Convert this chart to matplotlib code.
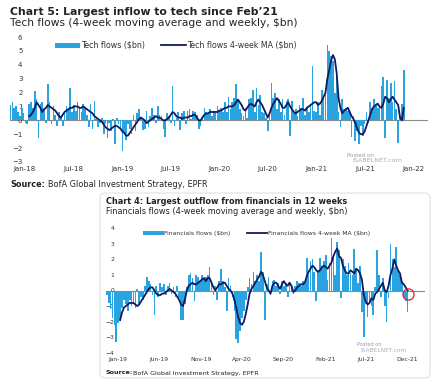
import numpy as np
import pandas as pd
import matplotlib.pyplot as plt
from matplotlib.patches import FancyBboxPatch

plt.rcParams['font.family'] = ['DejaVu Sans']

W, H = 447, 389
BAR_COL = '#2aa4e0'
LINE_COL = '#101a5e'
TXT = '#222222'


def fx(x):
    return x / W


def fy(y):
    return 1 - y / H


# ---- Chart 5: tech flows, weekly from Nov-2017 ----
tech_dates = pd.date_range('2017-11-08', periods=212, freq='7D')
tech_flows = [
    1.1, 1.3, 0.9, 1.0, 0.6, 0.3, 0.9, 0.5, -0.2, -0.3,
    1.2, 1.3, 0.9, 2.1, 1.5, -1.3, 1.2, 1.3, 0.8, -0.2,
    2.6, 1.3, -0.3, 1.0, 0.4, -0.4, 0.6, 0.3, -0.4, 0.7,
    1.0, 0.8, 2.3, 0.6, 1.1, 0.7, 1.3, 0.9, 0.6, 1.2,
    0.9, 0.4, -0.5, 1.2, -0.6, 1.4, 0.1, -0.5, -0.2, 0.2,
    -1.0, -0.3, -1.3, -0.2, -0.8, 0.1, -1.7, 0.2, -0.3, -0.6,
    -2.2, -0.9, -1.4, -0.3, -0.6, -1.0, 0.4, -0.8, 0.5, 0.8,
    0.2, -0.7, -0.6, 0.7, -0.5, 0.3, 0.9, 0.4, -0.2, 1.0,
    0.4, 0.3, -0.6, -1.2, 0.5, 0.3, -0.2, 2.5, -0.4, 0.2,
    0.6, -0.7, 0.5, 0.7, -0.3, 0.7, 0.8, 0.1, 0.7, 0.6,
    0.4, -0.6, -0.4, 0.3, 0.9, 0.6, 0.5, 0.8, 0.3, 0.7,
    0.5, 1.0, 0.7, 0.9, 0.6, 1.3, 0.6, 1.7, 0.8, 1.3,
    1.6, 2.6, 1.4, 0.8, 0.5, 0.3, 0.9, 0.2, 1.5, 1.6,
    2.2, 0.6, 2.3, 1.1, 1.8, 0.6, 0.5, 0.2, -0.8, 0.6,
    2.7, 1.6, 2.0, 0.8, 1.5, 0.6, 1.5, 0.4, 1.4, 1.5,
    -1.1, 1.4, 0.5, 0.8, 0.3, 1.1, 0.9, 1.6, 0.4, 0.9,
    0.6, 1.0, 3.9, 0.7, 0.6, 1.3, 0.4, 2.2, 1.6, 2.3,
    5.4, 5.0, 4.6, 4.3, 2.0, 3.1, 0.6, -0.5, 1.5, 0.8,
    0.9, 0.7, 0.5, -1.2, 0.3, -1.5, -0.8, -1.7, -0.4, -1.1,
    -0.3, 0.6, -0.2, 1.3, 0.9, 1.5, 1.2, 0.9, 1.1, 2.5,
    3.1, -1.3, 2.9, 1.6, 2.7, 1.3, 2.8, 0.8, -1.6, 0.3, 1.2, 3.6,
]
tech_ma = [np.nan] * 10 + [
    0.3, 0.4, 0.6, 0.9, 1.3, 1.1, 0.9, 0.6, 0.8, 0.9,
    1.1, 1.0, 0.9, 0.8, 0.7, 0.5, 0.3, 0.2, 0.4, 0.6,
    0.7, 0.8, 0.9, 0.9, 1.0, 1.0, 1.0, 0.9, 0.9, 1.0,
    0.9, 0.8, 0.7, 0.6, 0.5, 0.3, 0.2, 0.1, 0.0, -0.1,
    -0.3, -0.5, -0.6, -0.7, -0.6, -0.5, -0.4, -0.4, -0.5, -0.6,
    -0.8, -0.9, -1.1, -1.1, -0.9, -0.7, -0.5, -0.3, -0.1, 0.1,
    0.2, 0.1, 0.0, -0.2, -0.1, 0.0, 0.1, 0.2, 0.3, 0.2,
    0.2, 0.1, 0.0, 0.0, 0.1, 0.2, 0.4, 0.6, 0.5, 0.3,
    0.2, 0.2, 0.1, 0.2, 0.2, 0.2, 0.3, 0.3, 0.4, 0.4,
    0.2, 0.0, 0.0, 0.2, 0.4, 0.5, 0.5, 0.6, 0.6, 0.6,
    0.6, 0.6, 0.7, 0.7, 0.8, 0.9, 0.9, 1.0, 1.0, 1.0,
    1.1, 1.3, 1.5, 1.3, 1.1, 0.8, 0.7, 0.9, 1.1, 1.2,
    1.1, 1.0, 1.3, 1.5, 1.3, 1.1, 0.8, 0.5, 0.2, 0.5,
    0.9, 1.2, 1.4, 1.6, 1.4, 1.2, 0.9, 0.9, 1.1, 1.3,
    1.0, 0.8, 0.6, 0.5, 0.6, 0.7, 0.8, 0.8, 0.7, 0.9,
    1.0, 1.1, 1.2, 1.3, 1.3, 1.1, 1.2, 1.4, 1.7, 2.0,
    3.0, 3.6, 4.3, 4.7, 4.4, 3.4, 1.6, 0.9, 0.5, 0.7,
    0.8, 0.9, 0.6, 0.3, 0.1, -0.2, -0.6, -0.9, -1.0, -1.0,
    -0.8, -0.4, 0.0, 0.4, 0.8, 1.0, 1.1, 1.2, 1.0, 0.9,
    1.2, 1.7, 1.6, 1.3, 1.5, 1.7, 1.5, 1.3, 1.1, 0.2, 0.0, 0.9,
]
tech_ticks = ['2018-01-01', '2018-07-01', '2019-01-01', '2019-07-01', '2020-01-01',
              '2020-07-01', '2021-01-01', '2021-07-01', '2022-01-01']
tech_labels = ['Jan-18', 'Jul-18', 'Jan-19', 'Jul-19', 'Jan-20',
               'Jul-20', 'Jan-21', 'Jul-21', 'Jan-22']

# ---- Chart 4: financials flows, weekly from Nov-2018 ----
fin_dates = pd.date_range('2018-11-21', periods=159, freq='7D')
fin_flows = [
    -0.3, -0.8, -1.2, -1.8, -2.2, -3.3, -2.1, -1.9, -1.1, -0.6,
    -0.9, -1.3, -0.6, -1.0, -0.8, -1.1, 0.1, -0.9, -0.4, -0.6,
    0.3, 0.9, 0.6, 0.4, -0.3, -1.6, 0.3, -0.4, 0.5, 0.2,
    0.4, -0.3, 0.3, 0.5, -0.2, 0.2, -0.4, 0.3, -0.5, -1.9,
    -1.9, -0.9, 0.2, 1.0, 1.1, 0.8, -0.7, 1.0, 0.9, 0.6,
    1.0, 0.8, 0.9, 1.0, 1.5, 0.5, -0.3, 0.3, -0.6, 0.6,
    1.4, 0.6, 0.2, -1.3, 0.8, 0.3, -0.4, -1.3, -3.1, -3.4,
    -2.6, -1.8, -1.3, -0.6, 0.2, 0.8, 0.4, 1.2, 0.6, 1.0,
    0.6, 2.5, 1.2, -1.9, 0.4, 0.9, -0.3, 0.6, 0.7, 0.3,
    0.5, -0.2, 0.6, 0.3, 0.5, -0.4, 0.5, 0.2, -0.2, 0.3,
    0.6, 0.5, 0.3, 0.6, 0.5, 2.1, 1.0, 1.9, 2.0, 1.2,
    -0.7, 1.3, 2.1, 1.6, 1.9, 2.3, 0.7, 1.8, 3.4, 2.2,
    1.0, 3.1, 2.6, -0.5, 2.0, 1.6, 1.0, 1.8, 1.1, 1.0,
    2.7, 1.4, 0.5, 1.6, -1.4, -3.0, -0.9, -1.7, -0.8, -1.0,
    -1.6, 0.2, 2.6, 1.0, -0.4, 0.8, -1.0, -2.0, -0.5, 3.0,
    2.0, 1.5, 2.8, 1.3, 1.0, 0.6, -0.5, -0.7, -1.4,
]
fin_ma = [np.nan] * 7 + [
    -1.9, -1.4, -1.1,
    -1.0, -0.9, -0.8, -0.8, -0.8, -0.9, -1.0, -0.9, -0.7, -0.5,
    -0.3, -0.1, 0.1, 0.2, 0.2, 0.0, -0.2, -0.3, -0.3, -0.2,
    -0.2, -0.1, 0.0, 0.1, 0.0, -0.1, -0.2, -0.4, -0.6, -0.9,
    -1.0, -0.6, 0.0, 0.3, 0.4, 0.5, 0.4, 0.4, 0.5, 0.6,
    0.7, 0.8, 0.6, 0.8, 0.8, 0.5, 0.2, 0.0, 0.2, 0.4,
    0.4, 0.5, 0.5, 0.3, 0.1, 0.0, -0.2, -0.6, -1.1, -1.7,
    -2.1, -2.2, -2.0, -1.5, -0.9, -0.2, 0.1, 0.3, 0.5, 0.7,
    0.9, 1.2, 1.0, 0.6, 0.2, 0.0, -0.2, 0.3, 0.5, 0.5,
    0.3, 0.1, 0.4, 0.6, 0.4, 0.3, 0.5, 0.3, -0.1, 0.0,
    0.2, 0.3, 0.4, 0.4, 0.5, 0.9, 1.2, 1.4, 1.6, 1.5,
    1.3, 1.2, 1.3, 1.5, 1.6, 1.5, 1.4, 1.6, 1.8, 2.2,
    2.5, 2.7, 2.2, 2.1, 1.6, 1.3, 1.1, 1.1, 1.3, 1.2,
    1.1, 1.4, 1.3, 1.1, 0.7, -0.3, -0.7, -0.9, -0.8, -0.5,
    -0.6, -0.2, -0.1, 0.1, 0.3, 0.5, 0.0, -0.1, 0.3, 1.0,
    1.4, 2.0, 1.6, 1.3, 1.1, 0.5, 0.4, 0.2, 0.0,
]
fin_ticks = ['2019-01-01', '2019-06-01', '2019-11-01', '2020-04-01',
             '2020-09-01', '2021-02-01', '2021-07-01', '2021-12-01']
fin_labels = ['Jan-19', 'Jun-19', 'Nov-19', 'Apr-20', 'Sep-20', 'Feb-21', 'Jul-21', 'Dec-21']


def draw(ax, dates, flows, ma, ticks, labels, ylim, names, fs, lpad):
    bars = ax.bar(dates, flows, width=6.2, color=BAR_COL, lw=0, zorder=2)
    line, = ax.plot(dates, ma, color=LINE_COL, lw=1.3, zorder=3)
    ax.axhline(0, color='#8a8a8a', lw=0.8, zorder=1)
    ax.set_ylim(*ylim)
    ax.set_yticks(range(ylim[0], ylim[1] + 1))
    ax.set_xticks(pd.to_datetime(ticks))
    ax.set_xticklabels(labels)
    for s in ax.spines.values():
        s.set_visible(False)
    ax.tick_params(axis='both', length=0, labelsize=fs, labelcolor='#333333')
    ax.tick_params(axis='y', pad=lpad)
    ax.tick_params(axis='x', pad=3)
    ax.set_facecolor('none')
    return [bars, line], names


fig = plt.figure(figsize=(W / 100, H / 100), dpi=100)

# top chart
ax1 = fig.add_axes([fx(10), fy(162), fx(428) - fx(10), fy(37) - fy(162)])
h, n = draw(ax1, tech_dates, tech_flows, tech_ma, tech_ticks, tech_labels, (-3, 6),
            ['Tech flows ($bn)', 'Tech flows 4-week MA ($bn)'], 5.0, -9)
ax1.set_xlim(pd.Timestamp('2018-01-01') - pd.Timedelta(days=56),
             pd.Timestamp('2022-01-01') + pd.Timedelta(days=53))
ax1.legend(h, n, loc='upper left', bbox_to_anchor=((51 - 10) / (428 - 10), 1.0),
           bbox_transform=ax1.transAxes, ncol=2, frameon=False, fontsize=5.7,
           handlelength=3.2, handleheight=0.6, handletextpad=0.1, columnspacing=2.0,
           borderaxespad=0.1, labelcolor='#333333')

fig.text(fx(10), fy(12), "Chart 5: Largest inflow to tech since Feb\u201921", fontsize=7.8,
         fontweight='bold', color=TXT, va='center')
fig.text(fx(10), fy(23.5), "Tech flows (4-week moving average and weekly, $bn)", fontsize=7.7,
         color=TXT, va='center')
fig.text(fx(10), fy(185), "Source:", fontsize=5.9, fontweight='bold', color=TXT, va='center')
fig.text(fx(48), fy(185), "BofA Global Investment Strategy, EPFR", fontsize=5.9, color=TXT,
         va='center')
fig.text(fx(347), fy(155), "Posted on", fontsize=4, color='#999999', va='center')
fig.text(fx(352), fy(161), "ISABELNET.com", fontsize=4.6, color='#a8b0bb', va='center')

# bottom chart frame
fig.patches.append(FancyBboxPatch((fx(100), fy(378)), fx(430) - fx(100), fy(193) - fy(378),
                                  boxstyle='round,pad=0,rounding_size=0.012',
                                  transform=fig.transFigure, fc='none', ec='#e2e2e2', lw=0.8))

ax2 = fig.add_axes([fx(106), fy(352.7), fx(425) - fx(106), fy(228.3) - fy(352.7)])
h, n = draw(ax2, fin_dates, fin_flows, fin_ma, fin_ticks, fin_labels, (-4, 4),
            ['Financials flows ($bn)', 'Financials flows 4-week MA ($bn)'], 4.3, -6)
ax2.set_xlim(pd.Timestamp('2019-01-01') - pd.Timedelta(days=44),
             pd.Timestamp('2019-01-01') + pd.Timedelta(days=1129))
ax2.legend(h, n, loc='upper left', bbox_to_anchor=((140 - 106) / (425 - 106), 1.0),
           bbox_transform=ax2.transAxes, ncol=2, frameon=False, fontsize=4.4,
           handlelength=3.4, handleheight=0.6, handletextpad=0.1, columnspacing=2.6,
           borderaxespad=0.1, labelcolor='#333333')
# red circle on the latest reading
ax2.plot(fin_dates[-1], fin_ma[-1] - 0.2, 'o', ms=8, mfc='none', mec='#e02020', mew=0.9,
         zorder=4)

fig.text(fx(106), fy(201), "Chart 4: Largest outflow from financials in 12 weeks", fontsize=5.9,
         fontweight='bold', color=TXT, va='center')
fig.text(fx(106), fy(212), "Financials flows (4-week moving average and weekly, $bn)",
         fontsize=5.9, color=TXT, va='center')
fig.text(fx(106), fy(373), "Source:", fontsize=4.6, fontweight='bold', color=TXT, va='center')
fig.text(fx(133), fy(373), "BofA Global Investment Strategy, EPFR", fontsize=4.6, color=TXT,
         va='center')
fig.text(fx(357), fy(345), "Posted on", fontsize=3.6, color='#999999', va='center')
fig.text(fx(360), fy(351), "ISABELNET.com", fontsize=4.2, color='#a8b0bb', va='center')

fig.savefig('out.png', dpi=100, facecolor='white')
